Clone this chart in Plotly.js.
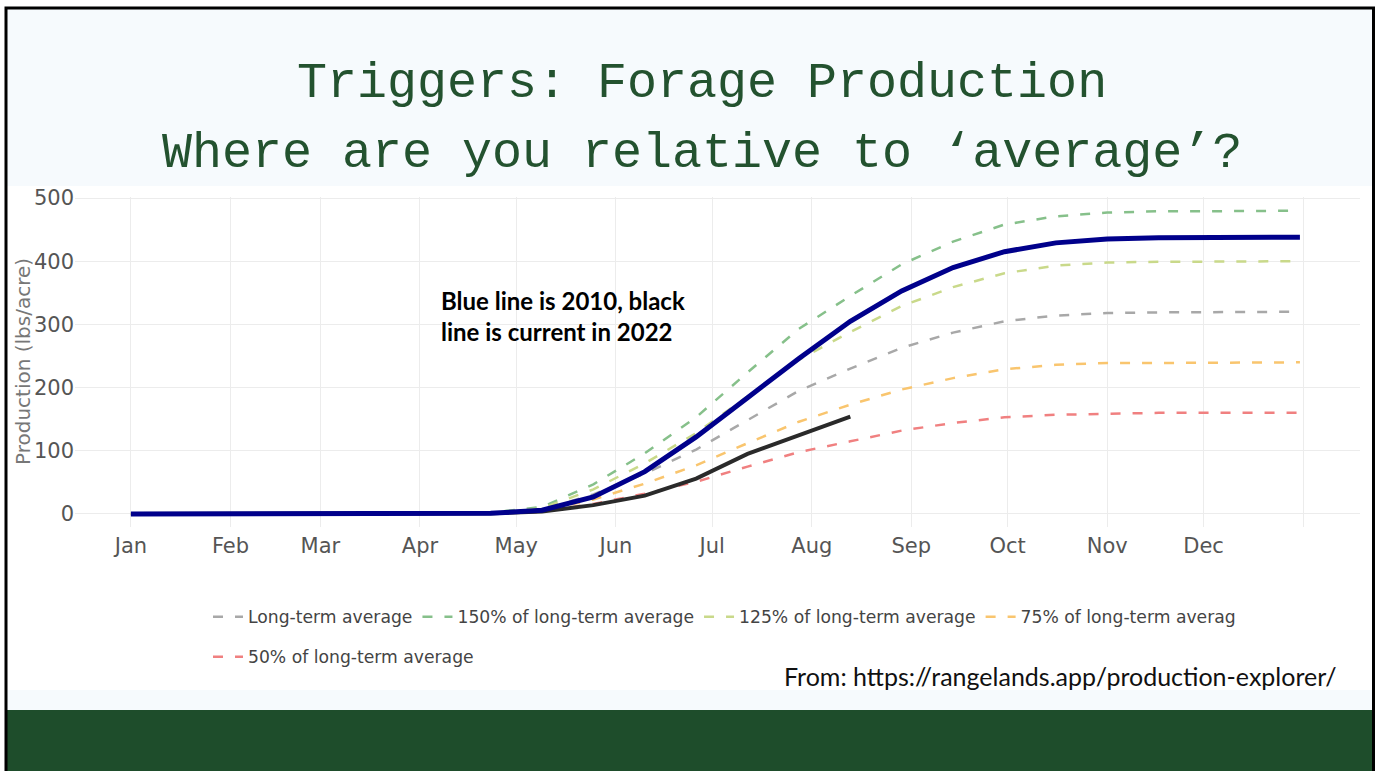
<!DOCTYPE html>
<html><head><meta charset="utf-8">
<script src="https://cdn.plot.ly/plotly-3.0.1.min.js"></script>
<style>html,body{margin:0;padding:0;background:#fff;overflow:hidden;} #chart{width:1376px;height:771px;}</style>
</head><body><div id="chart"></div>
<script>
// ---- data (16-day production, lbs/acre) ----
const dates = ["2022-01-01","2022-01-17","2022-02-02","2022-02-18","2022-03-06","2022-03-22","2022-04-07","2022-04-23","2022-05-09","2022-05-25","2022-06-10","2022-06-26","2022-07-12","2022-07-28","2022-08-13","2022-08-29","2022-09-14","2022-09-30","2022-10-16","2022-11-01","2022-11-17","2022-12-03","2022-12-19","2022-12-31"];
const longTermAvg = [0,0,0,0,0,0,0.3,1.5,7,31,64,102,149,195,230,263,287,305,314,318,319,319,320,320];
const pct150 = [0,0,0,0,0,0,0.5,2.3,11,47,96,153,224,293,345,395,431,458,471,477,479,479,480,480];
const pct125 = [0,0,0,0,0,0,0.4,1.9,9,39,80,128,186,244,288,329,359,381,393,398,399,399,400,400];
const pct75 = [0,0,0,0,0,0,0.2,1.1,5,23,48,77,112,146,173,197,215,229,236,239,239,239,240,240];
const pct50 = [0,0,0,0,0,0,0.2,0.8,3.5,16,32,51,75,98,115,132,144,153,157,159,160,160,160,160];
const year2010 = [0,0,0,0,0,0,0,1,6,27,67,122,184,246,305,353,390,415,429,435,437,438,438,438];
const year2022 = [0,0,0,0,0,0,0,1,4,14,29,56,95,125,154];
const dates2022 = dates.slice(0, year2022.length);
const monthTicks = ["2022-01-01","2022-02-01","2022-03-01","2022-04-01","2022-05-01","2022-06-01","2022-07-01","2022-08-01","2022-09-01","2022-10-01","2022-11-01","2022-12-01","2023-01-01"];
const monthLabels = ["Jan","Feb","Mar","Apr","May","Jun","Jul","Aug","Sep","Oct","Nov","Dec",""];
const seriesNames = ["Long-term average","150% of long-term average","125% of long-term average","75% of long-term averag","50% of long-term average"];

// ---- layout helpers (pixel -> paper) ----
const W = 1376, H = 771, L = 75, R = 1360, T = 197, B = 527;
const xp = px => (px - L) / (R - L);
const yp = py => (B - py) / (B - T);

const dashed = (name, y, color, legend) => ({
  type: 'scatter', mode: 'lines', name: name, x: dates, y: y,
  line: {color: color, width: 2.5, dash: '10px,12px'}, legend: legend || 'legend', hoverinfo: 'skip'
});

const data = [
  dashed(seriesNames[0], longTermAvg, '#a8a8a8'),
  dashed(seriesNames[1], pct150, '#86c08a'),
  dashed(seriesNames[2], pct125, '#c9d98a'),
  dashed(seriesNames[3], pct75, '#f9c56e'),
  dashed(seriesNames[4], pct50, '#f08080', 'legend2'),
  {type:'scatter', mode:'lines', x: dates2022, y: year2022, line:{color:'#2a2a2a', width:4}, showlegend:false, hoverinfo:'skip'},
  {type:'scatter', mode:'lines', x: dates, y: year2010, line:{color:'#00008b', width:5}, showlegend:false, hoverinfo:'skip'}
];

const legendFont = {family:'DejaVu Sans', size:17.2, color:'#444'};
const layout = {
  width: W, height: H,
  margin: {l: L, r: W - R, t: T, b: H - B, pad: 0},
  paper_bgcolor: '#ffffff', plot_bgcolor: 'rgba(0,0,0,0)',
  font: {family: 'DejaVu Sans', color: '#555'},
  xaxis: {
    type: 'date', range: ['2021-12-14 14:00', '2023-01-18 17:00'],
    tickmode: 'array', tickvals: monthTicks, ticktext: monthLabels,
    showgrid: true, gridcolor: '#ececec', gridwidth: 1, zeroline: false, showline: false,
    ticks: '', ticklabelstandoff: 4, tickfont: {family:'DejaVu Sans', size: 21, color: '#555'}, fixedrange: true
  },
  yaxis: {
    range: [-20.6, 501.6], tickvals: [0,100,200,300,400,500],
    showgrid: true, gridcolor: '#ececec', gridwidth: 1, zeroline: false, showline: false,
    ticks: '', tickfont: {family:'DejaVu Sans', size: 21, color: '#555'}, fixedrange: true
  },
  showlegend: true,
  legend: {orientation:'h', x: xp(208), xanchor:'left', y: yp(599), yanchor:'top', font: legendFont, bgcolor:'rgba(0,0,0,0)', traceorder:'normal'},
  legend2: {orientation:'h', x: xp(208), xanchor:'left', y: yp(639), yanchor:'top', font: legendFont, bgcolor:'rgba(0,0,0,0)'},
  shapes: [
    {type:'rect', xref:'paper', yref:'paper', x0: xp(7), x1: xp(1372), y0: yp(9), y1: yp(186), fillcolor:'#f6fafd', line:{width:0}, layer:'below'},
    {type:'rect', xref:'paper', yref:'paper', x0: xp(7), x1: xp(1372), y0: yp(690), y1: yp(710), fillcolor:'#f6fafd', line:{width:0}, layer:'below'},
    {type:'rect', xref:'paper', yref:'paper', x0: xp(7), x1: xp(1372), y0: yp(710), y1: yp(772), fillcolor:'#1e4d2b', line:{width:0}, layer:'above'},
    {type:'rect', xref:'paper', yref:'paper', x0: xp(6), x1: xp(1373.5), y0: yp(8), y1: yp(790), fillcolor:'rgba(0,0,0,0)', line:{color:'#000', width:3}, layer:'above'}
  ],
  annotations: [
    {xref:'paper', yref:'paper', x: xp(702), y: yp(84), xanchor:'center', yanchor:'middle', showarrow:false,
     text:'Triggers: Forage Production', font:{family:'Liberation Mono', size:50, color:'#23522f'}},
    {xref:'paper', yref:'paper', x: xp(702), y: yp(154), xanchor:'center', yanchor:'middle', showarrow:false,
     text:'Where are you relative to ‘average’?', font:{family:'Liberation Mono', size:50, color:'#23522f'}},
    {xref:'paper', yref:'paper', x: xp(23), y: yp(362), xanchor:'center', yanchor:'middle', showarrow:false, textangle:-90,
     text:'Production (lbs/acre)', font:{family:'DejaVu Sans', size:20, color:'#777'}},
    {xref:'paper', yref:'paper', x: xp(439), y: yp(316), xanchor:'left', yanchor:'middle', align:'left', showarrow:false,
     text:'<b>Blue line is 2010, black<br>line is current in 2022</b>', font:{family:'Lato', size:24, color:'#000'}},
    {xref:'paper', yref:'paper', x: xp(782), y: yp(676), xanchor:'left', yanchor:'middle', showarrow:false,
     text:'From: https://rangelands.app/production-explorer/', font:{family:'Lato', size:25, color:'#111'}}
  ]
};

Plotly.newPlot('chart', data, layout, {displayModeBar:false, staticPlot:true});
</script>
</body></html>
